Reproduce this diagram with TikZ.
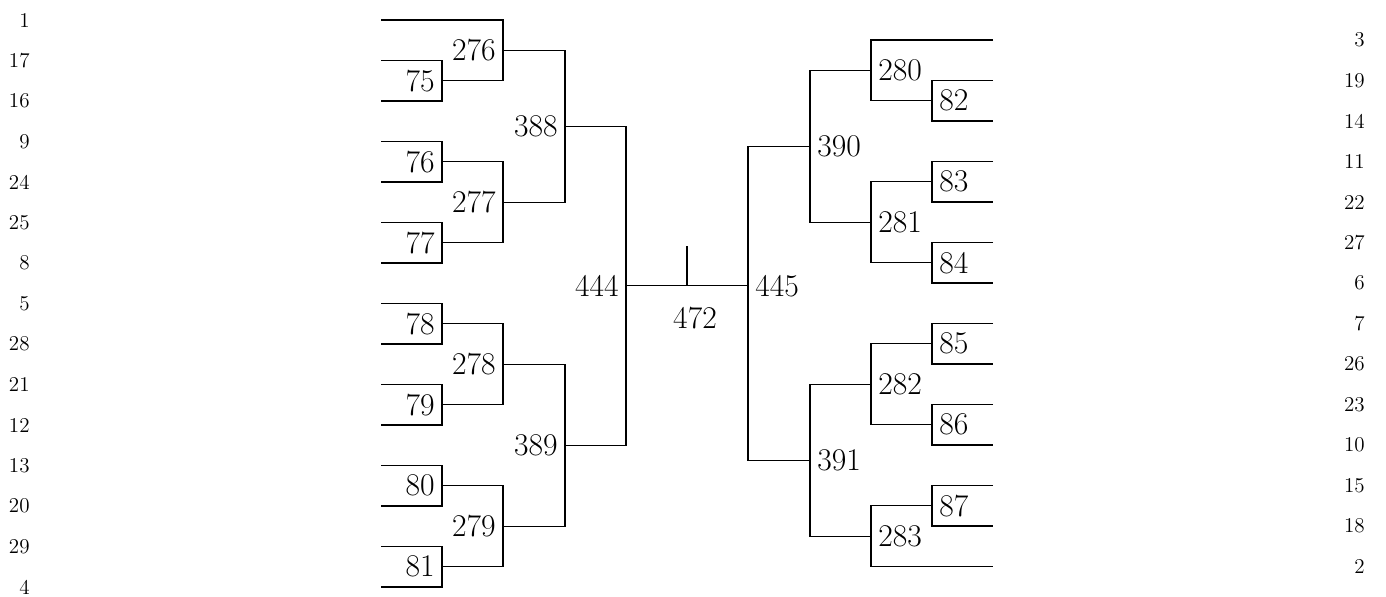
\documentclass[tikz,border=0pt]{standalone}
\usepackage{fontspec}
\usetikzlibrary{calc,positioning}

\tikzset{
  seed/.style={
    anchor = east,
    inner sep = 0pt,
    font = \fontsize{12}{12}\selectfont
  },
  gameL/.style={
    anchor = east,
    inner xsep = 4pt,
    inner ysep = 0pt,
    font = \fontsize{18}{18}\selectfont
  },
  gameR/.style={
    anchor = west,
    inner xsep = 4pt,
    inner ysep = 0pt,
    font = \fontsize{18}{18}\selectfont
  },
  final/.style={
    inner sep = 0pt,
    font = \fontsize{18}{18}\selectfont
  },
  bracket/.style={
    line width = 0.6pt
  }
}

\begin{document}
\begin{tikzpicture}[x=0.02cm, y=-0.02cm]
        \useasboundingbox (0,0) rectangle (1386,596);

        % seeds, left
        \node[seed] (sl0) at (30,20.0) {1};
        \node[seed] (sl1) at (30,60.5) {17};
        \node[seed] (sl2) at (30,101.0) {16};
        \node[seed] (sl3) at (30,141.5) {9};
        \node[seed] (sl4) at (30,182.0) {24};
        \node[seed] (sl5) at (30,222.5) {25};
        \node[seed] (sl6) at (30,263.0) {8};
        \node[seed] (sl7) at (30,303.5) {5};
        \node[seed] (sl8) at (30,344.0) {28};
        \node[seed] (sl9) at (30,384.5) {21};
        \node[seed] (sl10) at (30,425.0) {12};
        \node[seed] (sl11) at (30,465.5) {13};
        \node[seed] (sl12) at (30,506.0) {20};
        \node[seed] (sl13) at (30,546.5) {29};
        \node[seed] (sl14) at (30,587.0) {4};

        % seeds, right
        \node[seed] (sr0) at (1365,40.0) {3};
        \node[seed] (sr1) at (1365,80.5) {19};
        \node[seed] (sr2) at (1365,121.0) {14};
        \node[seed] (sr3) at (1365,161.5) {11};
        \node[seed] (sr4) at (1365,202.0) {22};
        \node[seed] (sr5) at (1365,242.5) {27};
        \node[seed] (sr6) at (1365,283.0) {6};
        \node[seed] (sr7) at (1365,323.5) {7};
        \node[seed] (sr8) at (1365,364.0) {26};
        \node[seed] (sr9) at (1365,404.5) {23};
        \node[seed] (sr10) at (1365,445.0) {10};
        \node[seed] (sr11) at (1365,485.5) {15};
        \node[seed] (sr12) at (1365,526.0) {18};
        \node[seed] (sr13) at (1365,566.5) {2};

        % open ends of the leaf lines
        \coordinate (a0) at (381,20.0);
        \coordinate (a1) at (381,60.5);
        \coordinate (a2) at (381,101.0);
        \coordinate (a3) at (381,141.5);
        \coordinate (a4) at (381,182.0);
        \coordinate (a5) at (381,222.5);
        \coordinate (a6) at (381,263.0);
        \coordinate (a7) at (381,303.5);
        \coordinate (a8) at (381,344.0);
        \coordinate (a9) at (381,384.5);
        \coordinate (a10) at (381,425.0);
        \coordinate (a11) at (381,465.5);
        \coordinate (a12) at (381,506.0);
        \coordinate (a13) at (381,546.5);
        \coordinate (a14) at (381,587.0);

        \coordinate (b0) at (993,40.0);
        \coordinate (b1) at (993,80.5);
        \coordinate (b2) at (993,121.0);
        \coordinate (b3) at (993,161.5);
        \coordinate (b4) at (993,202.0);
        \coordinate (b5) at (993,242.5);
        \coordinate (b6) at (993,283.0);
        \coordinate (b7) at (993,323.5);
        \coordinate (b8) at (993,364.0);
        \coordinate (b9) at (993,404.5);
        \coordinate (b10) at (993,445.0);
        \coordinate (b11) at (993,485.5);
        \coordinate (b12) at (993,526.0);
        \coordinate (b13) at (993,566.5);

        % left half
        \coordinate (g75) at (442,80.75);
        \coordinate (g76) at (442,161.75);
        \coordinate (g77) at (442,242.75);
        \coordinate (g78) at (442,323.75);
        \coordinate (g79) at (442,404.75);
        \coordinate (g80) at (442,485.75);
        \coordinate (g81) at (442,566.75);
        \coordinate (g276) at (503,50.38);
        \coordinate (g277) at (503,202.25);
        \coordinate (g278) at (503,364.25);
        \coordinate (g279) at (503,526.25);
        \coordinate (g388) at (565,126.31);
        \coordinate (g389) at (565,445.25);
        \coordinate (g444) at (626,285.78);

        \draw[bracket] (a1) -| (g75) |- (a2);
        \draw[bracket] (a3) -| (g76) |- (a4);
        \draw[bracket] (a5) -| (g77) |- (a6);
        \draw[bracket] (a7) -| (g78) |- (a8);
        \draw[bracket] (a9) -| (g79) |- (a10);
        \draw[bracket] (a11) -| (g80) |- (a12);
        \draw[bracket] (a13) -| (g81) |- (a14);
        \draw[bracket] (a0) -| (g276) |- (g75);
        \draw[bracket] (g76) -| (g277) |- (g77);
        \draw[bracket] (g78) -| (g278) |- (g79);
        \draw[bracket] (g80) -| (g279) |- (g81);
        \draw[bracket] (g276) -| (g388) |- (g277);
        \draw[bracket] (g278) -| (g389) |- (g279);
        \draw[bracket] (g388) -| (g444) |- (g389);

        \node[gameL] (n75) at (g75) {75};
        \node[gameL] (n76) at (g76) {76};
        \node[gameL] (n77) at (g77) {77};
        \node[gameL] (n78) at (g78) {78};
        \node[gameL] (n79) at (g79) {79};
        \node[gameL] (n80) at (g80) {80};
        \node[gameL] (n81) at (g81) {81};
        \node[gameL] (n276) at (g276) {276};
        \node[gameL] (n277) at (g277) {277};
        \node[gameL] (n278) at (g278) {278};
        \node[gameL] (n279) at (g279) {279};
        \node[gameL] (n388) at (g388) {388};
        \node[gameL] (n389) at (g389) {389};
        \node[gameL] (n444) at (g444) {444};

        % right half
        \coordinate (g82) at (932,100.75);
        \coordinate (g83) at (932,181.75);
        \coordinate (g84) at (932,262.75);
        \coordinate (g85) at (932,343.75);
        \coordinate (g86) at (932,424.75);
        \coordinate (g87) at (932,505.75);
        \coordinate (g280) at (871,70.38);
        \coordinate (g281) at (871,222.25);
        \coordinate (g282) at (871,384.25);
        \coordinate (g283) at (871,536.13);
        \coordinate (g390) at (810,146.31);
        \coordinate (g391) at (810,460.19);
        \coordinate (g445) at (748,285.78);

        \draw[bracket] (b1) -| (g82) |- (b2);
        \draw[bracket] (b3) -| (g83) |- (b4);
        \draw[bracket] (b5) -| (g84) |- (b6);
        \draw[bracket] (b7) -| (g85) |- (b8);
        \draw[bracket] (b9) -| (g86) |- (b10);
        \draw[bracket] (b11) -| (g87) |- (b12);
        \draw[bracket] (b0) -| (g280) |- (g82);
        \draw[bracket] (g83) -| (g281) |- (g84);
        \draw[bracket] (g85) -| (g282) |- (g86);
        \draw[bracket] (g87) -| (g283) |- (b13);
        \draw[bracket] (g280) -| (g390) |- (g281);
        \draw[bracket] (g282) -| (g391) |- (g283);
        \draw[bracket] (g390) -| (g445) |- (g391);

        \node[gameR] (n82) at (g82) {82};
        \node[gameR] (n83) at (g83) {83};
        \node[gameR] (n84) at (g84) {84};
        \node[gameR] (n85) at (g85) {85};
        \node[gameR] (n86) at (g86) {86};
        \node[gameR] (n87) at (g87) {87};
        \node[gameR] (n280) at (g280) {280};
        \node[gameR] (n281) at (g281) {281};
        \node[gameR] (n282) at (g282) {282};
        \node[gameR] (n283) at (g283) {283};
        \node[gameR] (n390) at (g390) {390};
        \node[gameR] (n391) at (g391) {391};
        \node[gameR] (n445) at (g445) {445};

        % final
        \coordinate (fin) at (687,285.78);
        \coordinate (tick) at (687,246);
        \draw[bracket] (g444) -- (g445);
        \draw[bracket] (fin) -- (tick);
        \node[final] (n472) at (695,317.6) {472};
\end{tikzpicture}
\end{document}
